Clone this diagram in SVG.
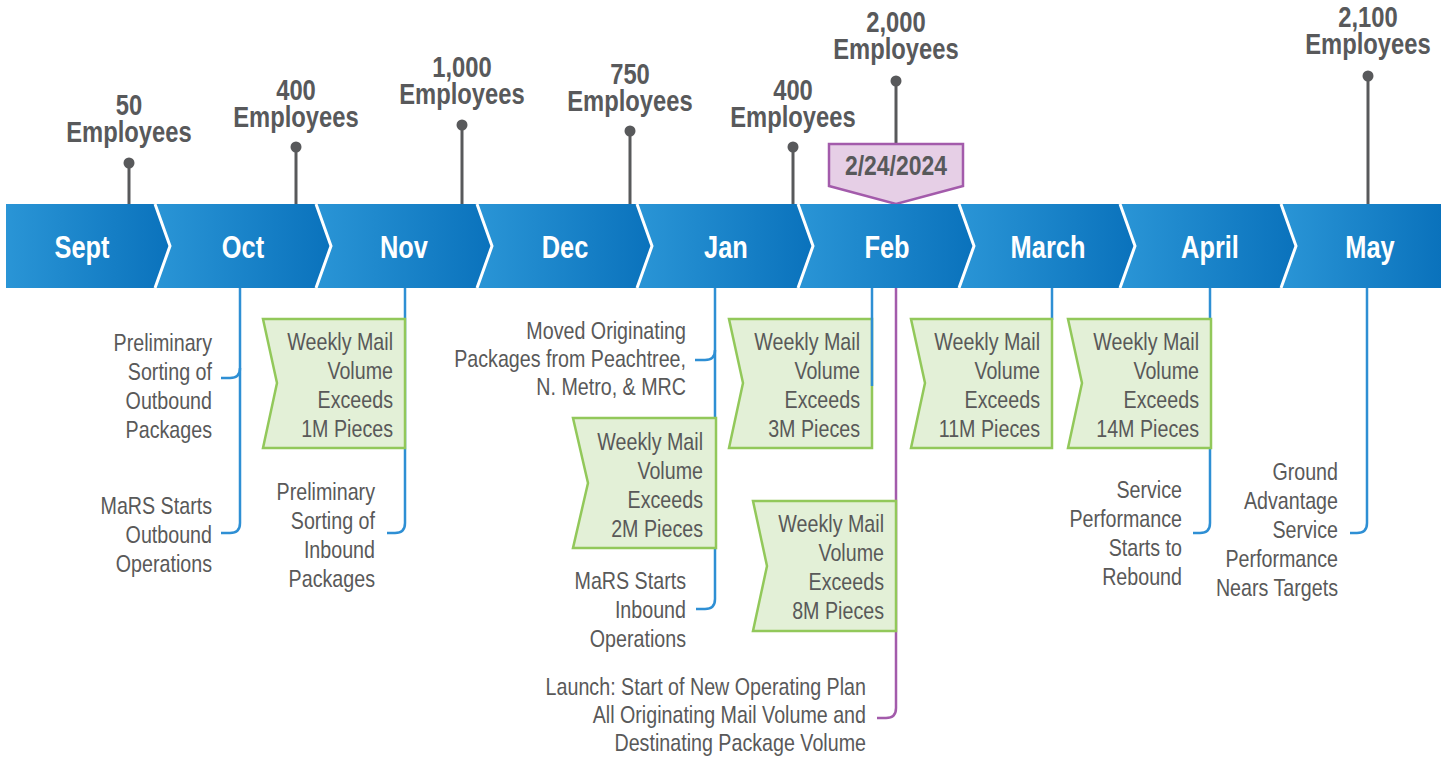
<svg xmlns="http://www.w3.org/2000/svg" width="1451" height="760" viewBox="0 0 1451 760">
  <defs>
    <linearGradient id="segFill" x1="0" y1="0" x2="1" y2="0">
      <stop offset="0" stop-color="#2a95d6"/>
      <stop offset="1" stop-color="#0a72bc"/>
    </linearGradient>
    <style>
      .seg { fill: url(#segFill); }
      .sep { fill: none; stroke: #ffffff; stroke-width: 3; stroke-linejoin: miter; }
      .month { font-family: "Liberation Sans", Arial, sans-serif; font-weight: bold; font-size: 31px; fill: #ffffff; text-anchor: middle; }
      .head { font-family: "Liberation Sans", Arial, sans-serif; font-weight: bold; font-size: 29px; fill: #58595b; text-anchor: middle; }
      .body { font-family: "Liberation Sans", Arial, sans-serif; font-size: 24px; fill: #595959; text-anchor: end; }
      .stem { stroke: #58595b; stroke-width: 3; fill: none; }
      .dot { fill: #58595b; }
      .blue { stroke: #2e8fd4; stroke-width: 2.5; fill: none; }
      .purple { stroke: #a35bab; stroke-width: 2.5; fill: none; }
      .flag { fill: #e3f0d7; stroke: #92c85a; stroke-width: 2.5; }
      .date { fill: #e6cfe6; stroke: #a35bab; stroke-width: 2.5; }
    </style>
  </defs>

  <rect width="1451" height="760" fill="#ffffff"/>

  <!-- headcount stems above the banner (narrow type: sans scaled to 82% width) -->
  <g id="headcount">
    <g id="hc-sept">
      <line class="stem" x1="129" y1="163" x2="129" y2="205"/>
      <circle class="dot" cx="129" cy="163" r="5.5"/>
      <text class="head" transform="translate(129 0) scale(0.82 1)"><tspan x="0" y="115">50</tspan><tspan x="0" y="142">Employees</tspan></text>
    </g>
    <g id="hc-oct">
      <line class="stem" x1="296" y1="147" x2="296" y2="205"/>
      <circle class="dot" cx="296" cy="147" r="5.5"/>
      <text class="head" transform="translate(296 0) scale(0.82 1)"><tspan x="0" y="100">400</tspan><tspan x="0" y="127">Employees</tspan></text>
    </g>
    <g id="hc-nov">
      <line class="stem" x1="462" y1="125" x2="462" y2="205"/>
      <circle class="dot" cx="462" cy="125" r="5.5"/>
      <text class="head" transform="translate(462 0) scale(0.82 1)"><tspan x="0" y="77">1,000</tspan><tspan x="0" y="104">Employees</tspan></text>
    </g>
    <g id="hc-dec">
      <line class="stem" x1="630" y1="131" x2="630" y2="205"/>
      <circle class="dot" cx="630" cy="131" r="5.5"/>
      <text class="head" transform="translate(630 0) scale(0.82 1)"><tspan x="0" y="84">750</tspan><tspan x="0" y="111">Employees</tspan></text>
    </g>
    <g id="hc-jan">
      <line class="stem" x1="793" y1="147" x2="793" y2="205"/>
      <circle class="dot" cx="793" cy="147" r="5.5"/>
      <text class="head" transform="translate(793 0) scale(0.82 1)"><tspan x="0" y="100">400</tspan><tspan x="0" y="127">Employees</tspan></text>
    </g>
    <g id="hc-feb">
      <line class="stem" x1="896" y1="81" x2="896" y2="145"/>
      <circle class="dot" cx="896" cy="81" r="5.5"/>
      <text class="head" transform="translate(896 0) scale(0.82 1)"><tspan x="0" y="32">2,000</tspan><tspan x="0" y="59">Employees</tspan></text>
    </g>
    <g id="hc-may">
      <line class="stem" x1="1368" y1="76" x2="1368" y2="205"/>
      <circle class="dot" cx="1368" cy="76" r="5.5"/>
      <text class="head" transform="translate(1368 0) scale(0.82 1)"><tspan x="0" y="27">2,100</tspan><tspan x="0" y="54">Employees</tspan></text>
    </g>
  </g>

  <!-- launch date tag -->
  <g id="launch-date">
    <polygon class="date" points="829,144 963,144 963,186 896,204 829,186"/>
    <text class="head" transform="translate(896 175) scale(0.82 1)" x="0" y="0" style="font-size:28px">2/24/2024</text>
  </g>

  <!-- month banner -->
  <g id="banner">
    <polygon class="seg" points="6,204 155,204 170,246 155,288 6,288"/>
    <polygon class="seg" points="155,204 316,204 331,246 316,288 155,288 170,246"/>
    <polygon class="seg" points="316,204 477,204 492,246 477,288 316,288 331,246"/>
    <polygon class="seg" points="477,204 637,204 652,246 637,288 477,288 492,246"/>
    <polygon class="seg" points="637,204 798,204 813,246 798,288 637,288 652,246"/>
    <polygon class="seg" points="798,204 959,204 974,246 959,288 798,288 813,246"/>
    <polygon class="seg" points="959,204 1120,204 1135,246 1120,288 959,288 974,246"/>
    <polygon class="seg" points="1120,204 1281,204 1296,246 1281,288 1120,288 1135,246"/>
    <polygon class="seg" points="1281,204 1441,204 1441,288 1281,288 1296,246"/>
    <polyline class="sep" points="155,204 170,246 155,288"/>
    <polyline class="sep" points="316,204 331,246 316,288"/>
    <polyline class="sep" points="477,204 492,246 477,288"/>
    <polyline class="sep" points="637,204 652,246 637,288"/>
    <polyline class="sep" points="798,204 813,246 798,288"/>
    <polyline class="sep" points="959,204 974,246 959,288"/>
    <polyline class="sep" points="1120,204 1135,246 1120,288"/>
    <polyline class="sep" points="1281,204 1296,246 1281,288"/>
    <text class="month" transform="translate(82 258) scale(0.82 1)">Sept</text>
    <text class="month" transform="translate(243 258) scale(0.82 1)">Oct</text>
    <text class="month" transform="translate(404 258) scale(0.82 1)">Nov</text>
    <text class="month" transform="translate(565 258) scale(0.82 1)">Dec</text>
    <text class="month" transform="translate(726 258) scale(0.82 1)">Jan</text>
    <text class="month" transform="translate(887 258) scale(0.82 1)">Feb</text>
    <text class="month" transform="translate(1048 258) scale(0.82 1)">March</text>
    <text class="month" transform="translate(1210 258) scale(0.82 1)">April</text>
    <text class="month" transform="translate(1370 258) scale(0.82 1)">May</text>
  </g>

  <!-- leader lines below the banner -->
  <g id="connectors">
    <path class="blue" d="M240,288 V523 Q240,533 230,533 H221"/>
    <path class="blue" d="M240,368 Q240,378 230,378 H221"/>
    <path class="blue" d="M405,288 V523 Q405,533 395,533 H387"/>
    <path class="blue" d="M715,288 V599 Q715,609 705,609 H696"/>
    <path class="blue" d="M715,350 Q715,360 705,360 H695"/>
    <path class="blue" d="M1210,288 V523 Q1210,533 1200,533 H1193"/>
    <path class="blue" d="M1367,288 V523 Q1367,533 1357,533 H1350"/>
    <path class="blue" d="M1052,288 V320"/>
    <path class="purple" d="M896,288 V708 Q896,718 886,718 H877"/>
  </g>

  <!-- milestone notes -->
  <g id="oct-notes">
    <text class="body" transform="translate(212 0) scale(0.82 1)"><tspan x="0" y="351">Preliminary</tspan><tspan x="0" y="380">Sorting of</tspan><tspan x="0" y="409">Outbound</tspan><tspan x="0" y="438">Packages</tspan></text>
    <text class="body" transform="translate(212 0) scale(0.82 1)"><tspan x="0" y="514">MaRS Starts</tspan><tspan x="0" y="543">Outbound</tspan><tspan x="0" y="572">Operations</tspan></text>
  </g>

  <g id="flag-1m">
    <polygon class="flag" points="263,319 405,319 405,448 263,448 277,383"/>
    <text class="body" transform="translate(393 0) scale(0.82 1)"><tspan x="0" y="350">Weekly Mail</tspan><tspan x="0" y="379">Volume</tspan><tspan x="0" y="408">Exceeds</tspan><tspan x="0" y="437">1M Pieces</tspan></text>
  </g>

  <g id="nov-notes">
    <text class="body" transform="translate(375 0) scale(0.82 1)"><tspan x="0" y="500">Preliminary</tspan><tspan x="0" y="529">Sorting of</tspan><tspan x="0" y="558">Inbound</tspan><tspan x="0" y="587">Packages</tspan></text>
  </g>

  <g id="jan-notes">
    <text class="body" transform="translate(686 0) scale(0.82 1)"><tspan x="0" y="339">Moved Originating</tspan><tspan x="0" y="367">Packages from Peachtree,</tspan><tspan x="0" y="395">N. Metro, &amp; MRC</tspan></text>
    <text class="body" transform="translate(686 0) scale(0.82 1)"><tspan x="0" y="589">MaRS Starts</tspan><tspan x="0" y="618">Inbound</tspan><tspan x="0" y="647">Operations</tspan></text>
  </g>

  <g id="flag-2m">
    <polygon class="flag" points="573,418 716,418 716,548 573,548 588,483"/>
    <text class="body" transform="translate(703 0) scale(0.82 1)"><tspan x="0" y="450">Weekly Mail</tspan><tspan x="0" y="479">Volume</tspan><tspan x="0" y="508">Exceeds</tspan><tspan x="0" y="537">2M Pieces</tspan></text>
  </g>

  <g id="flag-3m">
    <polygon class="flag" points="729,319 872,319 872,448 729,448 743,383"/>
    <path class="blue" d="M872,288 V386"/>
    <text class="body" transform="translate(860 0) scale(0.82 1)"><tspan x="0" y="350">Weekly Mail</tspan><tspan x="0" y="379">Volume</tspan><tspan x="0" y="408">Exceeds</tspan><tspan x="0" y="437">3M Pieces</tspan></text>
  </g>

  <g id="flag-8m">
    <polygon class="flag" points="753,501 896,501 896,631 753,631 767,566"/>
    <text class="body" transform="translate(884 0) scale(0.82 1)"><tspan x="0" y="532">Weekly Mail</tspan><tspan x="0" y="561">Volume</tspan><tspan x="0" y="590">Exceeds</tspan><tspan x="0" y="619">8M Pieces</tspan></text>
  </g>

  <g id="feb-notes">
    <text class="body" transform="translate(866 0) scale(0.82 1)"><tspan x="0" y="695">Launch: Start of New Operating Plan</tspan><tspan x="0" y="723">All Originating Mail Volume and</tspan><tspan x="0" y="751">Destinating Package Volume</tspan></text>
  </g>

  <g id="flag-11m">
    <polygon class="flag" points="911,319 1052,319 1052,448 911,448 925,383"/>
    <text class="body" transform="translate(1040 0) scale(0.82 1)"><tspan x="0" y="350">Weekly Mail</tspan><tspan x="0" y="379">Volume</tspan><tspan x="0" y="408">Exceeds</tspan><tspan x="0" y="437">11M Pieces</tspan></text>
  </g>

  <g id="flag-14m">
    <polygon class="flag" points="1068,319 1211,319 1211,448 1068,448 1082,383"/>
    <text class="body" transform="translate(1199 0) scale(0.82 1)"><tspan x="0" y="350">Weekly Mail</tspan><tspan x="0" y="379">Volume</tspan><tspan x="0" y="408">Exceeds</tspan><tspan x="0" y="437">14M Pieces</tspan></text>
  </g>

  <g id="april-notes">
    <text class="body" transform="translate(1182 0) scale(0.82 1)"><tspan x="0" y="498">Service</tspan><tspan x="0" y="527">Performance</tspan><tspan x="0" y="556">Starts to</tspan><tspan x="0" y="585">Rebound</tspan></text>
  </g>

  <g id="may-notes">
    <text class="body" transform="translate(1338 0) scale(0.82 1)"><tspan x="0" y="480">Ground</tspan><tspan x="0" y="509">Advantage</tspan><tspan x="0" y="538">Service</tspan><tspan x="0" y="567">Performance</tspan><tspan x="0" y="596">Nears Targets</tspan></text>
  </g>
</svg>
